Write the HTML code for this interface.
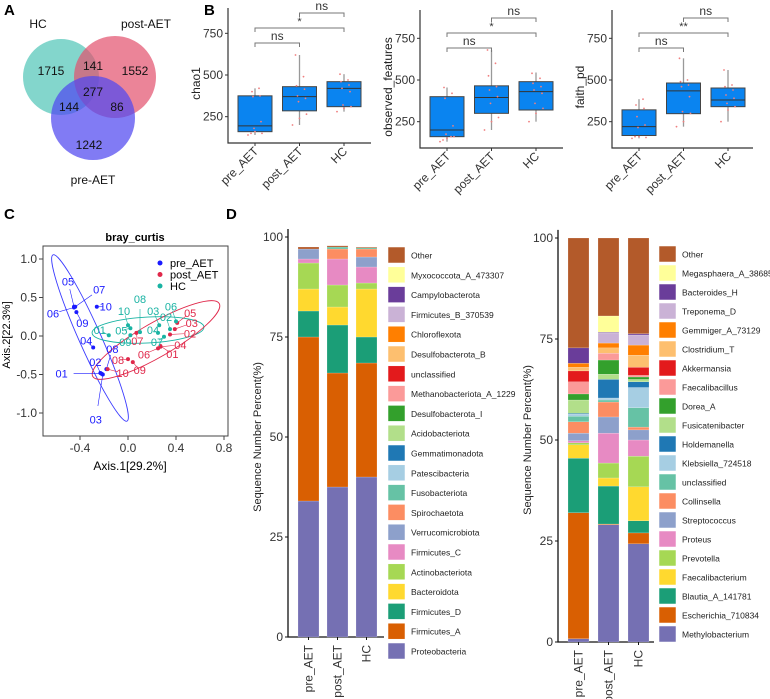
<!DOCTYPE html>
<html><head><meta charset="utf-8">
<style>
html,body{margin:0;padding:0;background:#fff;}
svg{display:block;font-family:"Liberation Sans",Arial,sans-serif;}
</style></head>
<body>
<svg id="fig" width="770" height="699" viewBox="0 0 770 699" xmlns="http://www.w3.org/2000/svg">
<g font-weight="bold" font-size="15">
<text x="4" y="15">A</text>
<text x="204" y="15">B</text>
<text x="4" y="219">C</text>
<text x="226" y="219">D</text>
</g>
<g>
<circle cx="61" cy="77" r="38" fill="#4fc4b6" fill-opacity="0.7"/>
<circle cx="115" cy="77" r="41" fill="#e2506c" fill-opacity="0.7"/>
<circle cx="93" cy="118" r="42" fill="#5048f0" fill-opacity="0.72"/>
<g font-size="12" text-anchor="middle" fill="#111">
<text x="38" y="28">HC</text>
<text x="146" y="28">post-AET</text>
<text x="93" y="184">pre-AET</text>
<text x="51" y="75">1715</text>
<text x="93" y="70">141</text>
<text x="135" y="75">1552</text>
<text x="93" y="96">277</text>
<text x="69" y="111">144</text>
<text x="117" y="111">86</text>
<text x="89" y="149">1242</text>
</g>
</g>
<g id="panelB"></g>
<g id="panelC"></g>
<g id="panelD"></g>
</svg>
<script>
// ---------- Panel B data ----------
const boxGroups = ["pre_AET","post_AET","HC"];
const boxTicks = [250,500,750];
const chao1Stats = [[140,160,195,375,420],[200,285,370,430,620],[280,310,420,460,505]];
const observedStats = [[130,160,200,400,455],[200,300,395,465,680],[250,320,430,490,545]];
const faithStats = [[150,167,220,321,385],[220,298,435,482,630],[250,340,380,452,560]];
const chao1Points = [[140,160,150,180,220,370,375,400,420,150],[200,240,265,340,360,375,415,435,490,620],[280,300,310,320,400,420,440,460,470,505]];
const observedPoints = [[130,150,160,175,225,390,420,455,160,140],[200,250,275,360,400,440,460,525,600,680],[250,300,330,360,420,440,460,480,510,540]];
const faithPoints = [[150,160,155,215,230,280,330,350,385,160],[220,250,300,310,400,460,470,490,500,630],[250,320,340,360,390,410,440,460,470,560]];
const chao1Sig = ["ns","*","ns"];
const observedSig = ["ns","*","ns"];
const faithSig = ["ns","**","ns"];

// ---------- Panel C data ----------
const pcoaTicksX = [-0.4,0.0,0.4,0.8];
const pcoaTicksY = [-1.0,-0.5,0.0,0.5,1.0];
const preIds = ["05","06","09","07","10","04","08","02","01","03"];
const preX = [-0.45,-0.45,-0.43,-0.44,-0.26,-0.29,-0.18,-0.23,-0.22,-0.21];
const preY = [0.38,0.37,0.31,0.38,0.38,-0.15,-0.43,-0.48,-0.49,-0.50];
const postIds = ["05","03","02","04","01","06","07","08","09","10"];
const postX = [0.41,0.39,0.35,0.27,0.27,0.25,0.07,0.0,0.04,-0.17];
const postY = [0.17,0.09,0.02,-0.14,-0.13,-0.16,0.04,-0.30,-0.34,-0.43];
const hcIds = ["01","05","10","08","09","03","04","06","02","07"];
const hcX = [-0.16,0.02,0.0,0.10,0.02,0.26,0.25,0.40,0.35,0.30];
const hcY = [0.01,0.10,0.14,0.05,0.01,0.14,0.04,0.19,0.09,-0.01];

// ---------- Panel D data ----------
const barGroups = ["pre_AET","post_AET","HC"];
const barTicks = [0,25,50,75,100];
const phylaNames = ["Proteobacteria","Firmicutes_A","Firmicutes_D","Bacteroidota","Actinobacteriota","Firmicutes_C","Verrucomicrobiota","Spirochaetota","Fusobacteriota","Patescibacteria","Gemmatimonadota","Acidobacteriota","Desulfobacterota_I","Methanobacteriota_A_1229","unclassified","Desulfobacterota_B","Chloroflexota","Firmicutes_B_370539","Campylobacterota","Myxococcota_A_473307","Other"];
const phylaPre = [34,41,6.5,5.5,6.5,1,2.5,0,0,0,0,0,0,0,0,0,0,0,0,0,0.5];
const phylaPost = [37.5,28.5,12,4.5,5.5,6.5,0,2.5,0.5,0,0,0,0,0,0,0,0,0,0,0,0.3];
const phylaHC = [40,28.5,6.5,12,1.5,4,2.5,2,0.3,0,0,0,0,0,0,0,0,0,0,0,0.2];
const genusNames = ["Methylobacterium","Escherichia_710834","Blautia_A_141781","Faecalibacterium","Prevotella","Proteus","Streptococcus","Collinsella","unclassified","Klebsiella_724518","Holdemanella","Fusicatenibacter","Dorea_A","Faecalibacillus","Akkermansia","Clostridium_T","Gemmiger_A_73129","Treponema_D","Bacteroides_H","Megasphaera_A_38685","Other"];
const genusPre = [0.8,31.2,13.5,3.3,0.5,0.5,1.9,2.8,1.4,0.5,0.2,3.3,1.5,3.0,2.7,0.9,1.0,0,3.8,0,27.2];
const genusPost = [29,0.2,9.4,2,3.7,7.4,4,3.7,0.5,0.5,4.6,1.3,3.5,1.7,0,1.3,1.2,2.5,0.2,4,19.3];
const genusHC = [24.3,2.7,3,8.4,7.6,4,2.5,0.7,4.8,5,1.4,0.6,0.6,0.4,2,3,2.5,2.5,0.3,0,23.7];
const palette = ["#7570b3","#d95f02","#1b9e77","#ffd92f","#a6d854","#e78ac3","#8da0cb","#fc8d62","#66c2a5","#a6cee3","#1f78b4","#b2df8a","#33a02c","#fb9a99","#e31a1c","#fdbf6f","#ff7f00","#cab2d6","#6a3d9a","#ffff99","#b35a2a"];

const NS="http://www.w3.org/2000/svg";
function mk(parent,tag,attrs,text){const e=document.createElementNS(NS,tag);for(const k in attrs)e.setAttribute(k,attrs[k]);if(text!==undefined)e.textContent=text;parent.appendChild(e);return e;}

// ---------- Panel B ----------
const pB=document.getElementById('panelB');
function boxplot(ax, stats, pts, sig, title, name){
  const g=mk(pB,'g',{});
  
  
  const y=v=>ax.y500-(v-500)*ax.k;
  const x=i=>ax.c0+i*ax.dc;
  const axl=mk(g,'path',{d:`M${ax.x0},${ax.top}V${ax.bot}H${ax.x1}`,fill:'none',stroke:'#333','stroke-width':1.2});
  
  
  boxTicks.forEach(t=>{
    mk(g,'line',{x1:ax.x0-3,x2:ax.x0,y1:y(t),y2:y(t),stroke:'#333'});
    const tl=mk(g,'text',{x:ax.x0-5,y:y(t)+4,'font-size':12,'text-anchor':'end',fill:'#333'},t);
    
    
  });
  const yt=mk(g,'text',{transform:`translate(${ax.x0-28},${(ax.top+ax.bot)/2+8}) rotate(-90)`,'font-size':12,'text-anchor':'middle',fill:'#222'},title);
  
  
  boxGroups.forEach((gn,i)=>{
    const s=stats[i],cx=x(i),w=34;
    mk(g,'line',{x1:cx,x2:cx,y1:y(s[0]),y2:y(s[4]),stroke:'#999','stroke-width':1.3});
    const r=mk(g,'rect',{x:cx-w/2,y:y(s[3]),width:w,height:y(s[1])-y(s[3]),fill:'#0a84f0',stroke:'#444','stroke-width':1});
    
    
    mk(g,'line',{x1:cx-w/2,x2:cx+w/2,y1:y(s[2]),y2:y(s[2]),stroke:'#333','stroke-width':1});
    pts[i].forEach((v,j)=>{
      const d=mk(g,'circle',{cx:cx+((j*7)%15-7),cy:y(v),r:0.9,fill:'#f08080'});
      
      
    });
    mk(g,'line',{x1:cx,x2:cx,y1:ax.bot,y2:ax.bot+3,stroke:'#333'});
    const xl=mk(g,'text',{transform:`translate(${cx+4},${ax.bot+9}) rotate(-45)`,'font-size':12,'text-anchor':'end',fill:'#333'},gn);
    
    
  });
  const br=[[0,1,ax.bot-100],[0,2,ax.bot-115],[1,2,ax.bot-130]];
  br.forEach((b,k)=>{
    const x1=x(b[0]),x2=x(b[1]),yy=b[2];
    const p=mk(g,'path',{d:`M${x1},${yy+4}V${yy}H${x2}V${yy+4}`,fill:'none',stroke:'#777','stroke-width':1});
    
    
    const tt=mk(g,'text',{x:(x1+x2)/2,y:yy-3,'font-size':sig[k]==='ns'?12:11,'text-anchor':'middle',fill:'#333'},sig[k]);
    
    
  });
}
boxplot({x0:228,x1:371,top:8,bot:143,y500:75,k:0.1667,c0:255,dc:44.5},chao1Stats,chao1Points,chao1Sig,'chao1','chao1-boxplot');
boxplot({x0:420,x1:563,top:10,bot:148,y500:80,k:0.1667,c0:447,dc:44.5},observedStats,observedPoints,observedSig,'observed_features','observed-features-boxplot');
boxplot({x0:612,x1:753,top:10,bot:148,y500:80,k:0.1667,c0:639,dc:44.5},faithStats,faithPoints,faithSig,'faith_pd','faith-pd-boxplot');

// ---------- Panel C ----------
const pC=document.getElementById('panelC');
const cx=v=>128+v*120, cy=v=>336-v*77;
const frame=mk(pC,'rect',{x:43,y:246,width:185,height:190,fill:'none',stroke:'#444','stroke-width':1});


const ct=mk(pC,'text',{x:135,y:241,'font-size':11,'font-weight':'bold','text-anchor':'middle'},'bray_curtis');


pcoaTicksX.forEach(t=>{
  mk(pC,'line',{x1:cx(t),x2:cx(t),y1:436,y2:440,stroke:'#444'});
  const l=mk(pC,'text',{x:cx(t),y:452,'font-size':12,'text-anchor':'middle',fill:'#333'},t.toFixed(1));
  
  
});
pcoaTicksY.forEach(t=>{
  mk(pC,'line',{x1:39,x2:43,y1:cy(t),y2:cy(t),stroke:'#444'});
  const l=mk(pC,'text',{x:37,y:cy(t)+4,'font-size':12,'text-anchor':'end',fill:'#333'},t.toFixed(1));
  
  
});
const xat=mk(pC,'text',{x:130,y:470,'font-size':12,'text-anchor':'middle'},'Axis.1[29.2%]');


const yat=mk(pC,'text',{transform:'translate(10,335) rotate(-90)','font-size':11,'text-anchor':'middle'},'Axis.2[22.3%]');


function ell(c,cxp,cyp,rx,ry,ang,n){const e=mk(pC,'ellipse',{cx:cxp,cy:cyp,rx:rx,ry:ry,transform:`rotate(${ang} ${cxp} ${cyp})`,fill:'none',stroke:c,'stroke-width':0.9});}
ell('#3b3bff',90,338,91,11,66,'pre-aet-ellipse');
ell('#19b3a3',148,330,56,13,-3,'hc-ellipse');
ell('#e0284a',156,340,73,17,-30,'post-aet-ellipse');
function group(ids,xs,ys,col,offs,n){
  ids.forEach((id,i)=>{
    const px=cx(xs[i]),py=cy(ys[i]);
    const d=mk(pC,'circle',{cx:px,cy:py,r:2,fill:col});
    
    
    const o=offs[i];
    mk(pC,'line',{x1:px,y1:py,x2:px+o[0]*0.7,y2:py+o[1]*0.7,stroke:col,'stroke-width':0.6});
    const t=mk(pC,'text',{x:px+o[0],y:py+o[1]+4,'font-size':11,'text-anchor':'middle',fill:col},id);
    
    
  });
}
group(preIds,preX,preY,'#1a1aff',[[-6,-25],[-21,6],[6,11],[24,-17],[9,0],[-7,-7],[6,-20],[-5,-11],[-40,0],[-7,45]],'pre-aet');
group(postIds,postX,postY,'#e0284a',[[13,-10],[17,-6],[20,-1],[20,-2],[12,8],[-14,6],[1,8],[-10,1],[7,8],[15,4]],'post-aet');
group(hcIds,hcX,hcY,'#19b3a3',[[-9,-5],[-9,2],[-4,-14],[0,-33],[-5,7],[-6,-14],[-5,-3],[-5,-15],[-4,-12],[-7,5]],'hc');
const lg=mk(pC,'g',{});


[['pre_AET','#1a1aff'],['post_AET','#e0284a'],['HC','#19b3a3']].forEach((e,i)=>{
  mk(lg,'circle',{cx:160,cy:263+i*11.5,r:2.5,fill:e[1]});
  const t=mk(lg,'text',{x:170,y:267+i*11.5,'font-size':11},e[0]);
  
  
});

// ---------- Panel D ----------
const pD=document.getElementById('panelD');
function stacked(ax,names,series,name){
  const g=mk(pD,'g',{});
  
  
  const y=v=>ax.y0-v*ax.k;
  const a=mk(g,'path',{d:`M${ax.x0},${y(102)}V${ax.y0}H${ax.x1}`,fill:'none',stroke:'#111','stroke-width':1.3});
  
  
  barTicks.forEach(t=>{
    mk(g,'line',{x1:ax.x0-3,x2:ax.x0,y1:y(t),y2:y(t),stroke:'#111'});
    const l=mk(g,'text',{x:ax.x0-5,y:y(t)+4,'font-size':12,'text-anchor':'end',fill:'#333'},t);
    
    
  });
  const yt=mk(g,'text',{transform:`translate(${ax.x0-27},${y(50)}) rotate(-90)`,'font-size':11,'text-anchor':'middle',fill:'#222'},'Sequence Number Percent(%)');
  
  
  series.forEach((vals,i)=>{
    const bx=ax.b0+i*ax.db;
    let acc=0;
    vals.forEach((v,j)=>{
      if(v<=0)return;
      const r=mk(g,'rect',{x:bx,y:y(acc+v),width:ax.bw,height:v*ax.k,fill:palette[j],stroke:'#fff','stroke-width':0.3,'stroke-opacity':0.6});
      
      
      acc+=v;
    });
    mk(g,'line',{x1:bx+ax.bw/2,x2:bx+ax.bw/2,y1:ax.y0,y2:ax.y0+3,stroke:'#111'});
    const l=mk(g,'text',{transform:`translate(${bx+ax.bw/2+4},${ax.y0+8}) rotate(-90)`,'font-size':12,'text-anchor':'end',fill:'#333'},barGroups[i]);
    
    
  });
  for(let j=names.length-1;j>=0;j--){
    const k=names.length-1-j, ly=ax.ly+k*ax.ls;
    const s=mk(g,'rect',{x:ax.lx,y:ly,width:17,height:16,fill:palette[j],stroke:'#fff','stroke-width':0.5});
    
    
    const t=mk(g,'text',{x:ax.lx+23,y:ly+11.5,'font-size':8.5,fill:'#222'},names[j]);
    
    
  }
}
stacked({x0:288,x1:384,y0:637,k:4.0,b0:298,db:29,bw:21,lx:388,ly:247,ls:19.8},phylaNames,[phylaPre,phylaPost,phylaHC],'phylum-stacked-bar-chart');
stacked({x0:558,x1:654,y0:642,k:4.04,b0:568,db:30,bw:21,lx:659,ly:246,ls:19.0},genusNames,[genusPre,genusPost,genusHC],'genus-stacked-bar-chart');
</script>
</body></html>
